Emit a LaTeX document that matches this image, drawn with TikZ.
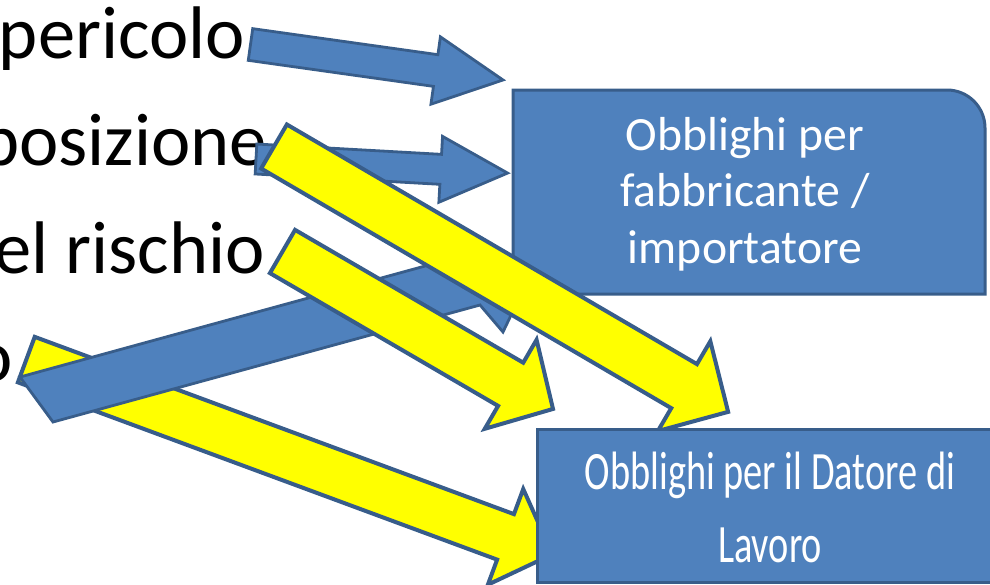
\documentclass[tikz,border=0pt]{standalone}
\usepackage{fontspec}
\setmainfont{Carlito}
\newfontfamily\condensedfont[FakeStretch=0.71]{Carlito}
\definecolor{officeblue}{HTML}{4F81BD}
\definecolor{officeedge}{HTML}{385D8A}
\definecolor{arrowyellow}{HTML}{FFFF00}
\tikzset{
  bluearrow/.style={fill=officeblue, draw=officeedge, line width=2.8pt, line join=miter},
  yellowarrow/.style={fill=arrowyellow, draw=officeedge, line width=4pt, line join=miter},
  boxshape/.style={fill=officeblue, draw=officeedge, line width=3pt},
  lefttext/.style={anchor=base east, inner sep=0pt, font=\fontsize{74.5}{80}\selectfont, text=black},
  boxtext/.style={anchor=base, inner sep=0pt, text=white, font=\fontsize{47.7}{56}\selectfont},
  boxtexttwo/.style={anchor=base, inner sep=0pt, text=white, font=\condensedfont\fontsize{54}{73}\selectfont},
}
% #1,#2 tail centre; #3 angle (screen, downwards positive); #4 length; #5 shaft width;
% #6 head length; #7 head half width; #8 style
\newcommand\BlockArrow[8]{%
  \begin{scope}[shift={(#1,#2)},rotate=-#3]
    \draw[#8] (0,-#5/2) -- ({#4-#6},-#5/2) -- ({#4-#6},-#7) -- (#4,0)
      -- ({#4-#6},#7) -- ({#4-#6},#5/2) -- (0,#5/2) -- cycle;
  \end{scope}}
\begin{document}
\begin{tikzpicture}[x=1pt,y=-1pt]
\useasboundingbox (0,0) rectangle (990,584);
\clip (0,0) rectangle (990,584);

% left text (cut at the left edge)
\node[lefttext] (t1) at (245,58) {pericolo};
\node[lefttext] (t2) at (267,165) {posizione};
\node[lefttext] (t3) at (265,273) {el rischio};
\node[lefttext] (t4) at (13,381) {o};

% thin blue arrows
\BlockArrow{250.5}{44.5}{8.0}{255}{32}{68}{34}{bluearrow}
\BlockArrow{256}{159}{3.2}{252}{30}{67}{33}{bluearrow}

% lower yellow arrow
\BlockArrow{26.3}{359.6}{20.3}{561}{48.5}{50}{51}{yellowarrow}

% wide blue arrow going up
\draw[bluearrow] (20,377) -- (447,260) -- (424,233) -- (535,265) -- (503,332)
  -- (480,305) -- (53,422) -- cycle;

% box 1
\draw[boxshape] (513,294) -- (513,90) -- (947,90)
  .. controls (968,90) and (985,107) .. (985,128) -- (985,294) -- cycle;
\node[boxtext] (b1a) at (745,150) {Obblighi per};
\node[boxtext] (b1b) at (745,206) {fabbricante /};
\node[boxtext] (b1c) at (745,263) {importatore};

% yellow arrows
\BlockArrow{282.5}{251.5}{30.2}{313}{50}{49}{51.5}{yellowarrow}
\BlockArrow{274}{146.5}{30.3}{526}{51}{51}{52}{yellowarrow}

% box 2
\draw[boxshape] (537,429) rectangle (1003,582);
\node[boxtexttwo] (b2a) at (770,489) {Obblighi per il Datore di};
\node[boxtexttwo] (b2b) at (770,562) {Lavoro};
\end{tikzpicture}
\end{document}
